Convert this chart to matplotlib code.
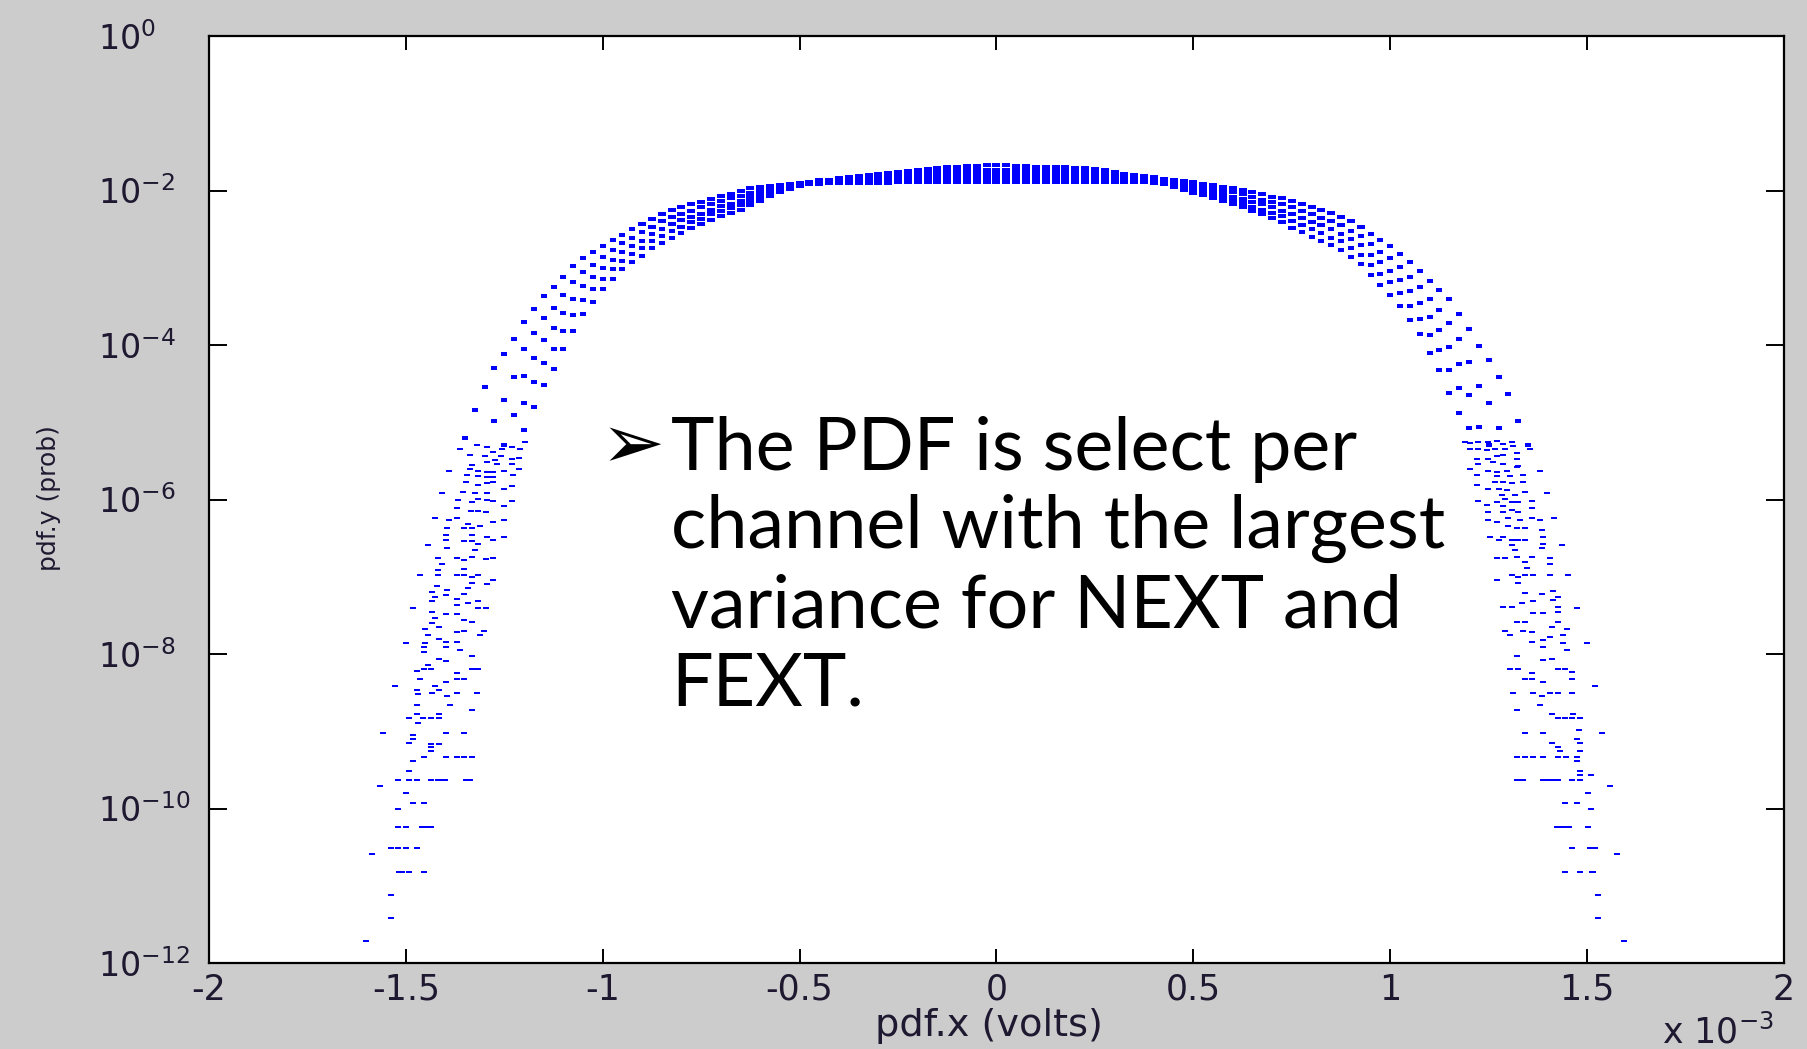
import numpy as np
import matplotlib
matplotlib.use("Agg")
import matplotlib.pyplot as plt
from matplotlib.ticker import FixedLocator, FuncFormatter, NullLocator

plt.rcParams['font.family'] = ['DejaVu Sans']
plt.rcParams['axes.unicode_minus'] = False
plt.rcParams['mathtext.default'] = 'regular'

# bin centres of the PDF estimate (units of 1e-3 V), 0.025 step
bin_step = 0.025
x_bins = np.arange(-64, 65) * bin_step

# log10(pdf) of the dense upper band, five channels from
# the outer edge of the band (A) to the inner edge (E); nan = no dot there
ch_a = [np.nan] * 8 + [
        np.nan, np.nan, -5.20, -4.84, -4.55, -4.30, -4.12, -3.92,
        -3.70, -3.53, -3.36, -3.25, -3.12, -2.98, -2.88, -2.80,
        -2.72, -2.64, -2.57, -2.50, -2.44, -2.37, -2.31, -2.25,
        -2.21, -2.18, -2.15, -2.11, -2.07, -2.04, -2.01, -1.97,
        -1.96, -1.94, -1.93, -1.92, -1.90, -1.89, -1.87, -1.86,
        -1.84, -1.82, -1.81, -1.80, -1.78, -1.77, -1.76, -1.75,
        -1.73, -1.72, -1.71, -1.70, -1.69, -1.68, -1.68, -1.67,
        -1.67, -1.67, -1.68, -1.68, -1.69, -1.69, -1.70, -1.70,
        -1.71, -1.71, -1.72, -1.74, -1.76, -1.78, -1.80, -1.81,
        -1.83, -1.85, -1.86, -1.88, -1.89, -1.91, -1.93, -1.95,
        -1.97, -1.99, -2.02, -2.05, -2.08, -2.10, -2.13, -2.17,
        -2.21, -2.25, -2.29, -2.34, -2.40, -2.47, -2.56, -2.64,
        -2.72, -2.82, -2.93, -3.04, -3.17, -3.29, -3.41, -3.60,
        -3.79, -4.01, -4.20, -4.41, -4.64, -4.98, -5.30, np.nan] + [np.nan] * 9
ch_b = [np.nan] * 8 + [
        np.nan, np.nan, np.nan, np.nan, np.nan, -4.98, -4.71, -4.42,
        -4.05, -3.85, -3.65, -3.52, -3.35, -3.19, -3.06, -2.96,
        -2.86, -2.77, -2.68, -2.61, -2.54, -2.47, -2.40, -2.34,
        -2.30, -2.26, -2.22, -2.18, -2.14, -2.10, -2.07, -2.03,
        -2.00, -1.97, -1.95, -1.94, -1.91, -1.90, -1.88, -1.87,
        -1.86, -1.84, -1.83, -1.83, -1.81, -1.80, -1.79, -1.79,
        -1.77, -1.76, -1.76, -1.75, -1.74, -1.73, -1.73, -1.73,
        -1.73, -1.73, -1.73, -1.73, -1.74, -1.74, -1.75, -1.75,
        -1.76, -1.76, -1.76, -1.78, -1.79, -1.81, -1.82, -1.83,
        -1.85, -1.87, -1.88, -1.91, -1.93, -1.95, -1.97, -2.00,
        -2.02, -2.05, -2.08, -2.12, -2.15, -2.18, -2.22, -2.26,
        -2.31, -2.35, -2.40, -2.45, -2.52, -2.59, -2.69, -2.79,
        -2.88, -2.99, -3.12, -3.25, -3.40, -3.55, -3.71, -3.92,
        -4.22, -4.53, -4.75, -5.08, np.nan, np.nan, np.nan, np.nan] + [np.nan] * 9
ch_c = [np.nan] * 8 + [
        np.nan, np.nan, np.nan, np.nan, np.nan, np.nan, -5.30, -4.91,
        -4.40, -4.17, -3.94, -3.78, -3.59, -3.40, -3.24, -3.12,
        -3.00, -2.90, -2.80, -2.72, -2.65, -2.56, -2.50, -2.44,
        -2.38, -2.34, -2.30, -2.25, -2.20, -2.17, -2.13, -2.08,
        -2.05, -2.01, -1.98, -1.95, -1.92, -1.91, -1.89, -1.88,
        -1.87, -1.86, -1.86, -1.85, -1.84, -1.84, -1.83, -1.82,
        -1.81, -1.81, -1.80, -1.80, -1.79, -1.79, -1.79, -1.78,
        -1.78, -1.78, -1.79, -1.79, -1.79, -1.79, -1.80, -1.80,
        -1.80, -1.80, -1.81, -1.82, -1.83, -1.84, -1.85, -1.85,
        -1.87, -1.89, -1.91, -1.94, -1.96, -1.99, -2.02, -2.05,
        -2.08, -2.11, -2.15, -2.18, -2.22, -2.26, -2.31, -2.36,
        -2.41, -2.45, -2.50, -2.56, -2.63, -2.71, -2.83, -2.93,
        -3.04, -3.16, -3.30, -3.45, -3.64, -3.81, -4.02, -4.24,
        -4.65, -5.06, -5.30, np.nan, np.nan, np.nan, np.nan, np.nan] + [np.nan] * 9
ch_d = [np.nan] * 16 + [
        -4.75, -4.48, -4.23, -4.05, -3.82, -3.61, -3.42, -3.28,
        -3.14, -3.02, -2.91, -2.82, -2.75, -2.66, -2.59, -2.53,
        -2.47, -2.41, -2.37, -2.31, -2.27, -2.23, -2.19, -2.14,
        -2.09, -2.04, -2.00, -1.97, -1.93, -1.91, -1.90, -1.89,
        -1.89, -1.88, -1.88, -1.88, -1.87, -1.87, -1.86, -1.86,
        -1.85, -1.85, -1.85, -1.84, -1.84, -1.84, -1.84, -1.84,
        -1.84, -1.84, -1.84, -1.84, -1.84, -1.84, -1.84, -1.84,
        -1.85, -1.85, -1.85, -1.85, -1.86, -1.86, -1.87, -1.87,
        -1.88, -1.90, -1.93, -1.96, -1.99, -2.02, -2.06, -2.09,
        -2.13, -2.16, -2.21, -2.25, -2.29, -2.33, -2.39, -2.45,
        -2.50, -2.55, -2.61, -2.66, -2.75, -2.83, -2.96, -3.08,
        -3.19, -3.33, -3.49, -3.66, -3.87, -4.07, -4.32, -4.56,
        -5.07, np.nan, np.nan, np.nan, np.nan, np.nan, np.nan, np.nan] + [np.nan] * 9
ch_e = [np.nan] * 16 + [
        -5.10, -4.80, -4.52, -4.31, -4.05, -3.82, -3.60, -3.44,
        -3.28, -3.15, -3.02, -2.93, -2.85, -2.75, -2.68, -2.62,
        -2.55, -2.49, -2.44, -2.38, -2.33, -2.29, -2.25, -2.19,
        -2.13, -2.07, -2.02, -1.98, -1.94, -1.92, -1.91, -1.90,
        -1.90, -1.90, -1.90, -1.90, -1.90, -1.90, -1.89, -1.89,
        -1.89, -1.89, -1.89, -1.89, -1.89, -1.89, -1.89, -1.89,
        -1.89, -1.89, -1.89, -1.89, -1.89, -1.89, -1.89, -1.89,
        -1.89, -1.89, -1.89, -1.89, -1.89, -1.89, -1.89, -1.89,
        -1.90, -1.92, -1.95, -1.99, -2.03, -2.06, -2.10, -2.14,
        -2.18, -2.22, -2.27, -2.31, -2.36, -2.41, -2.48, -2.54,
        -2.60, -2.65, -2.71, -2.77, -2.86, -2.95, -3.09, -3.22,
        -3.35, -3.50, -3.67, -3.86, -4.10, -4.33, -4.62, -4.88] + [np.nan] * 17

# scattered dots of the left tail: (x in 1e-3 V, log10 pdf)
left_tail = [
    (-1.363, -5.35), (-1.320, -5.29), (-1.295, -5.32), (-1.278, -5.38), (-1.257, -5.35),
    (-1.231, -5.32), (-1.210, -5.34), (-1.198, -5.25), (-1.337, -5.42), (-1.299, -5.44),
    (-1.274, -5.49), (-1.258, -5.44), (-1.231, -5.48), (-1.212, -5.46), (-1.333, -5.55),
    (-1.295, -5.52), (-1.269, -5.54), (-1.231, -5.54), (-1.390, -5.63), (-1.337, -5.60),
    (-1.316, -5.63), (-1.295, -5.64), (-1.278, -5.65), (-1.250, -5.63), (-1.227, -5.68),
    (-1.213, -5.60), (-1.346, -5.68), (-1.316, -5.70), (-1.295, -5.71), (-1.278, -5.71),
    (-1.347, -5.77), (-1.316, -5.81), (-1.295, -5.79), (-1.278, -5.77), (-1.250, -5.86),
    (-1.231, -5.82), (-1.407, -5.91), (-1.354, -5.90), (-1.324, -5.92), (-1.295, -5.91),
    (-1.367, -6.01), (-1.333, -6.03), (-1.316, -5.99), (-1.295, -6.01), (-1.278, -6.02),
    (-1.231, -6.02), (-1.250, -6.09), (-1.371, -6.11), (-1.335, -6.15), (-1.316, -6.15),
    (-1.297, -6.16), (-1.426, -6.24), (-1.390, -6.27), (-1.371, -6.24), (-1.341, -6.32),
    (-1.312, -6.34), (-1.278, -6.29), (-1.250, -6.27), (-1.396, -6.37), (-1.352, -6.37),
    (-1.333, -6.37), (-1.398, -6.46), (-1.333, -6.46), (-1.398, -6.52), (-1.352, -6.54),
    (-1.333, -6.54), (-1.316, -6.57), (-1.295, -6.49), (-1.278, -6.52), (-1.250, -6.48),
    (-1.445, -6.59), (-1.396, -6.63), (-1.324, -6.65), (-1.418, -6.76), (-1.371, -6.76),
    (-1.352, -6.78), (-1.333, -6.75), (-1.297, -6.77), (-1.278, -6.76), (-1.407, -6.83),
    (-1.352, -6.90), (-1.418, -6.91), (-1.418, -6.98), (-1.464, -6.98), (-1.371, -6.98),
    (-1.352, -6.98), (-1.333, -7.00), (-1.316, -6.98), (-1.420, -7.12), (-1.333, -7.08),
    (-1.295, -7.09), (-1.278, -7.04), (-1.396, -7.17), (-1.341, -7.14), (-1.434, -7.20),
    (-1.426, -7.26), (-1.398, -7.24), (-1.371, -7.29), (-1.352, -7.22), (-1.434, -7.31),
    (-1.371, -7.37), (-1.343, -7.34), (-1.316, -7.31), (-1.483, -7.40), (-1.434, -7.45),
    (-1.316, -7.40), (-1.297, -7.40), (-1.398, -7.48), (-1.371, -7.48), (-1.426, -7.54),
    (-1.352, -7.56), (-1.333, -7.59), (-1.434, -7.60), (-1.416, -7.65), (-1.451, -7.67),
    (-1.371, -7.72), (-1.352, -7.70), (-1.302, -7.70), (-1.313, -7.75), (-1.445, -7.75),
    (-1.500, -7.86), (-1.451, -7.86), (-1.416, -7.80), (-1.398, -7.84), (-1.371, -7.84),
    (-1.454, -7.91), (-1.398, -7.91), (-1.363, -7.95), (-1.454, -7.97), (-1.416, -8.06),
    (-1.398, -8.09), (-1.333, -8.03), (-1.445, -8.14), (-1.473, -8.22), (-1.454, -8.19),
    (-1.436, -8.19), (-1.333, -8.19), (-1.316, -8.19), (-1.464, -8.32), (-1.398, -8.36),
    (-1.371, -8.33), (-1.352, -8.33), (-1.371, -8.25), (-1.528, -8.41), (-1.473, -8.47),
    (-1.426, -8.41), (-1.416, -8.47), (-1.434, -8.50), (-1.468, -8.52), (-1.396, -8.55),
    (-1.320, -8.50), (-1.371, -8.50), (-1.473, -8.66), (-1.388, -8.66), (-1.333, -8.72),
    (-1.473, -8.78), (-1.416, -8.78), (-1.492, -8.83), (-1.456, -8.83), (-1.436, -8.83),
    (-1.416, -8.83), (-1.468, -8.89), (-1.559, -9.02), (-1.398, -9.02), (-1.352, -9.02),
    (-1.483, -9.05), (-1.483, -9.10), (-1.492, -9.15), (-1.416, -9.16), (-1.436, -9.17),
    (-1.436, -9.21), (-1.436, -9.26), (-1.454, -9.33), (-1.398, -9.33), (-1.371, -9.33),
    (-1.352, -9.33), (-1.333, -9.33), (-1.483, -9.38), (-1.492, -9.52), (-1.519, -9.63),
    (-1.492, -9.63), (-1.473, -9.63), (-1.436, -9.63), (-1.418, -9.63), (-1.412, -9.63),
    (-1.400, -9.63), (-1.347, -9.63), (-1.337, -9.63), (-1.566, -9.71), (-1.500, -9.80),
    (-1.483, -9.93), (-1.454, -9.93), (-1.519, -10.01), (-1.519, -10.24), (-1.500, -10.24),
    (-1.459, -10.24), (-1.452, -10.24), (-1.436, -10.24), (-1.539, -10.51), (-1.519, -10.51),
    (-1.500, -10.51), (-1.473, -10.51), (-1.585, -10.59), (-1.517, -10.82), (-1.510, -10.82),
    (-1.492, -10.82), (-1.454, -10.82), (-1.539, -11.12), (-1.539, -11.42), (-1.602, -11.72),
]

# scattered dots of the right tail: (x in 1e-3 V, log10 pdf)
right_tail = [
    (1.190, -5.25), (1.203, -5.27), (1.224, -5.25), (1.249, -5.26), (1.270, -5.24),
    (1.287, -5.28), (1.308, -5.25), (1.313, -5.31), (1.355, -5.35), (1.203, -5.35),
    (1.224, -5.34), (1.245, -5.36), (1.266, -5.35), (1.291, -5.34), (1.321, -5.40),
    (1.220, -5.48), (1.249, -5.47), (1.270, -5.44), (1.287, -5.42), (1.321, -5.47),
    (1.224, -5.54), (1.262, -5.52), (1.287, -5.54), (1.325, -5.57), (1.203, -5.60),
    (1.249, -5.63), (1.270, -5.64), (1.296, -5.63), (1.321, -5.58), (1.380, -5.63),
    (1.220, -5.68), (1.270, -5.70), (1.304, -5.70), (1.338, -5.68), (1.266, -5.77),
    (1.287, -5.77), (1.308, -5.79), (1.338, -5.77), (1.220, -5.81), (1.249, -5.86),
    (1.275, -5.86), (1.296, -5.88), (1.342, -5.90), (1.399, -5.91), (1.283, -5.94),
    (1.317, -5.94), (1.224, -6.02), (1.245, -6.07), (1.270, -6.03), (1.291, -5.99),
    (1.308, -6.03), (1.325, -6.03), (1.359, -6.02), (1.287, -6.09), (1.359, -6.11),
    (1.249, -6.16), (1.287, -6.16), (1.308, -6.14), (1.325, -6.16), (1.249, -6.27),
    (1.270, -6.29), (1.300, -6.24), (1.330, -6.26), (1.359, -6.24), (1.380, -6.27),
    (1.416, -6.24), (1.300, -6.34), (1.321, -6.37), (1.342, -6.37), (1.385, -6.40),
    (1.253, -6.48), (1.275, -6.52), (1.287, -6.48), (1.308, -6.53), (1.325, -6.53),
    (1.342, -6.53), (1.389, -6.48), (1.389, -6.57), (1.308, -6.59), (1.317, -6.65),
    (1.385, -6.63), (1.435, -6.59), (1.270, -6.76), (1.291, -6.76), (1.321, -6.74),
    (1.342, -6.81), (1.359, -6.75), (1.406, -6.76), (1.347, -6.89), (1.406, -6.83),
    (1.308, -6.98), (1.325, -7.00), (1.342, -6.98), (1.363, -6.98), (1.406, -6.98),
    (1.452, -6.98), (1.270, -7.04), (1.325, -7.08), (1.342, -7.21), (1.385, -7.22),
    (1.414, -7.19), (1.427, -7.26), (1.287, -7.39), (1.308, -7.39), (1.334, -7.34),
    (1.363, -7.32), (1.414, -7.30), (1.427, -7.39), (1.474, -7.40), (1.363, -7.47),
    (1.389, -7.47), (1.427, -7.45), (1.321, -7.59), (1.342, -7.59), (1.410, -7.65),
    (1.427, -7.58), (1.448, -7.67), (1.291, -7.70), (1.304, -7.75), (1.338, -7.70),
    (1.359, -7.72), (1.389, -7.82), (1.406, -7.78), (1.440, -7.75), (1.359, -7.84),
    (1.389, -7.91), (1.440, -7.86), (1.448, -7.95), (1.499, -7.86), (1.321, -8.03),
    (1.389, -8.08), (1.410, -8.06), (1.304, -8.19), (1.325, -8.19), (1.342, -8.33),
    (1.359, -8.33), (1.359, -8.25), (1.389, -8.36), (1.427, -8.19), (1.444, -8.19),
    (1.461, -8.23), (1.461, -8.32), (1.520, -8.41), (1.313, -8.50), (1.363, -8.50),
    (1.385, -8.55), (1.406, -8.51), (1.427, -8.50), (1.461, -8.50), (1.321, -8.72),
    (1.380, -8.66), (1.410, -8.78), (1.465, -8.78), (1.427, -8.83), (1.444, -8.83),
    (1.461, -8.83), (1.482, -8.83), (1.480, -8.99), (1.342, -9.02), (1.389, -9.02),
    (1.539, -9.02), (1.474, -9.10), (1.410, -9.15), (1.482, -9.15), (1.427, -9.21),
    (1.431, -9.26), (1.482, -9.26), (1.321, -9.33), (1.342, -9.33), (1.363, -9.33),
    (1.389, -9.33), (1.427, -9.33), (1.446, -9.33), (1.474, -9.33), (1.474, -9.38),
    (1.482, -9.52), (1.482, -9.56), (1.509, -9.56), (1.321, -9.63), (1.330, -9.63),
    (1.338, -9.63), (1.389, -9.63), (1.402, -9.63), (1.414, -9.63), (1.427, -9.63),
    (1.461, -9.63), (1.482, -9.63), (1.558, -9.71), (1.502, -9.80), (1.444, -9.93),
    (1.474, -9.93), (1.509, -10.01), (1.423, -10.24), (1.440, -10.24), (1.453, -10.24),
    (1.503, -10.24), (1.461, -10.51), (1.508, -10.51), (1.512, -10.51), (1.521, -10.51),
    (1.575, -10.59), (1.444, -10.82), (1.482, -10.82), (1.512, -10.82), (1.516, -10.82),
    (1.528, -11.12), (1.528, -11.42), (1.594, -11.72),
]

x_ticks = [-2, -1.5, -1, -0.5, 0, 0.5, 1, 1.5, 2]
y_ticks = [1e-12, 1e-10, 1e-8, 1e-6, 1e-4, 1e-2, 1e0]

bullet_text = "The PDF is select per\nchannel with the largest\nvariance for NEXT and\nFEXT."

W, H = 1808, 1049
fig = plt.figure(figsize=(W / 100, H / 100), dpi=100, facecolor='#cccccc')
ax = fig.add_axes([209 / W, 1 - 963 / H, (1784 - 209) / W, (963 - 36) / H])
ax.set_facecolor('white')

# MATLAB '.' dots look like little horizontal dashes in the stretched slide
def dash(h):
    return [(-1, -h), (1, -h), (1, h), (-1, h), (-1, -h)]

top_dot = dict(linestyle='none', marker=dash(0.6), ms=5.2, mew=0, color='#0000ff')
mid_dot = dict(linestyle='none', marker=dash(0.55), ms=4.2, mew=0, color='#0000ff')
tail_dot = dict(linestyle='none', marker=dash(0.55), ms=3.8, mew=0, color='#0000ff')

# near the peak the bins merge into a solid strip, lower down they separate
for ch in (ch_a, ch_b, ch_c, ch_d, ch_e):
    ly = np.asarray(ch)
    top = ly > -2.5
    ax.plot(x_bins[top], 10.0 ** ly[top], **top_dot)
    ax.plot(x_bins[~top], 10.0 ** ly[~top], **mid_dot)
for tail in (left_tail, right_tail):
    tx, tly = np.array(tail).T
    ax.plot(tx, 10.0 ** tly, **tail_dot)

ax.set_yscale('log')
ax.set_xlim(-2, 2)
ax.set_ylim(1e-12, 1e0)
ax.xaxis.set_major_locator(FixedLocator(x_ticks))
ax.xaxis.set_major_formatter(FuncFormatter(lambda v, p: f'{v:g}'))
ax.yaxis.set_major_locator(FixedLocator(y_ticks))
ax.yaxis.set_minor_locator(NullLocator())
ax.yaxis.set_major_formatter(FuncFormatter(lambda v, p: r'$10^{%d}$' % round(np.log10(v))))

for s in ax.spines.values():
    s.set_linewidth(1.6)
    s.set_color('black')
label_col = '#1e1830'
ax.tick_params(axis='both', direction='in', top=True, right=True, width=1.4,
               colors='black', labelcolor=label_col)
ax.tick_params(axis='x', length=10, labelsize=25, pad=7)
ax.tick_params(axis='y', length=13, labelsize=24, pad=80)
for lab in ax.get_yticklabels():
    lab.set_horizontalalignment('left')
    lab.set_verticalalignment('center_baseline')

ax.set_xlabel('pdf.x (volts)', fontsize=27.5, color=label_col)
ax.xaxis.set_label_coords(0.4955, -0.049)
ax.set_ylabel('pdf.y (prob)', fontsize=18, color=label_col)
ax.yaxis.set_label_coords(-0.094, 0.5016)
fig.text(1662 / W, 1 - 1014 / H, r'x $10^{-3}$', fontsize=25, color=label_col,
         ha='left', va='top')

# slide bullet sitting on top of the chart
fig.text(601 / W, 1 - 447 / H, '\u27a2', fontsize=55, family=['DejaVu Sans'],
         ha='left', va='center', color='black')
fig.text(671 / W, 1 - 706 / H, bullet_text, fontsize=53, family=['Lato', 'DejaVu Sans'],
         ha='left', va='baseline', color='black', linespacing=1.205,
         multialignment='left')

fig.savefig('out.png', dpi=100, facecolor=fig.get_facecolor())
